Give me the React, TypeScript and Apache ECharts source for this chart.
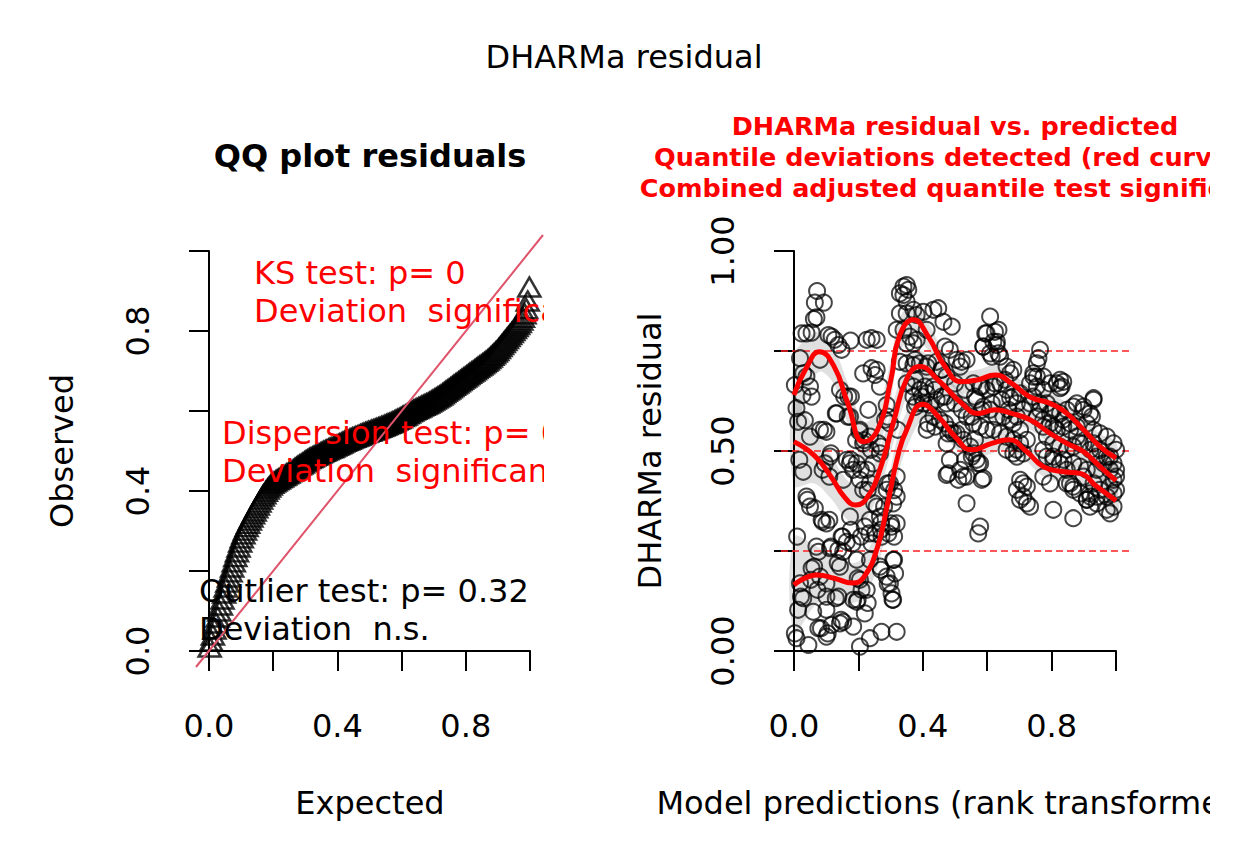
import React, { useEffect, useRef } from "react";
import * as echarts from "echarts";

// ---------------- DATA ----------------
// QQ plot: observed (sorted) residual quantiles
const qqObserved = [
  0.01, 0.025, 0.04, 0.055, 0.07, 0.085, 0.1, 0.115, 0.13, 0.145,
  0.16, 0.172, 0.185, 0.198, 0.21, 0.223, 0.236, 0.248, 0.26, 0.272,
  0.283, 0.293, 0.302, 0.311, 0.319, 0.327, 0.335, 0.343, 0.35, 0.358,
  0.365, 0.372, 0.38, 0.387, 0.393, 0.399, 0.405, 0.41, 0.415, 0.419,
  0.422, 0.425, 0.428, 0.43, 0.433, 0.435, 0.438, 0.44, 0.443, 0.445,
  0.448, 0.45, 0.453, 0.456, 0.459, 0.462, 0.465, 0.467, 0.47, 0.473,
  0.476, 0.478, 0.481, 0.483, 0.485, 0.487, 0.489, 0.491, 0.493, 0.495,
  0.497, 0.499, 0.501, 0.503, 0.505, 0.507, 0.508, 0.51, 0.512, 0.514,
  0.516, 0.518, 0.52, 0.522, 0.524, 0.526, 0.527, 0.529, 0.531, 0.533,
  0.534, 0.536, 0.537, 0.539, 0.541, 0.543, 0.544, 0.546, 0.547, 0.549,
  0.55, 0.552, 0.553, 0.555, 0.556, 0.558, 0.559, 0.561, 0.562, 0.564,
  0.566, 0.568, 0.569, 0.571, 0.573, 0.575, 0.577, 0.579, 0.581, 0.583,
  0.586, 0.588, 0.59, 0.593, 0.595, 0.598, 0.6, 0.602, 0.604, 0.606,
  0.608, 0.61, 0.612, 0.614, 0.616, 0.618, 0.62, 0.622, 0.625, 0.627,
  0.63, 0.632, 0.635, 0.637, 0.64, 0.643, 0.646, 0.649, 0.652, 0.655,
  0.658, 0.661, 0.664, 0.667, 0.67, 0.673, 0.676, 0.679, 0.682, 0.685,
  0.688, 0.691, 0.694, 0.697, 0.7, 0.703, 0.706, 0.709, 0.712, 0.715,
  0.718, 0.721, 0.724, 0.727, 0.731, 0.735, 0.739, 0.743, 0.747, 0.751,
  0.756, 0.761, 0.766, 0.771, 0.776, 0.781, 0.786, 0.791, 0.796, 0.801,
  0.806, 0.811, 0.816, 0.821, 0.827, 0.834, 0.843, 0.856, 0.875, 0.91,
];
const identityLine = [
  [-0.04, -0.04],
  [1.04, 1.04],
];

// Residual vs predicted scatter: [rank-transformed prediction, residual]
const residuals: number[][] = [
  [0.072,0.900],[0.065,0.871],[0.093,0.871],[0.070,0.834],[0.062,0.830],
  [0.024,0.794],[0.039,0.794],[0.055,0.796],[0.107,0.790],[0.117,0.786],
  [0.127,0.778],[0.138,0.765],[0.148,0.753],[0.176,0.776],[0.081,0.728],
  [0.019,0.732],[0.029,0.694],[0.039,0.686],[0.003,0.665],[0.050,0.661],
  [0.055,0.636],[0.027,0.640],[0.008,0.607],[0.013,0.573],[0.034,0.577],
  [0.050,0.536],[0.081,0.553],[0.101,0.548],[0.133,0.594],[0.143,0.653],
  [0.169,0.636],[0.174,0.586],[0.112,0.486],[0.096,0.469],[0.017,0.478],
  [0.029,0.448],[0.164,0.478],[0.174,0.469],[0.184,0.453],[0.195,0.469],
  [0.153,0.428],[0.039,0.386],[0.050,0.361],[0.065,0.357],[0.086,0.328],
  [0.101,0.319],[0.010,0.286],[0.148,0.286],[0.164,0.273],[0.174,0.336],
  [0.138,0.253],[0.153,0.248],[0.070,0.261],[0.076,0.248],[0.112,0.257],
  [0.195,0.228],[0.055,0.207],[0.081,0.186],[0.101,0.169],[0.143,0.211],
  [0.019,0.169],[0.029,0.132],[0.101,0.136],[0.138,0.136],[0.184,0.128],
  [0.195,0.123],[0.013,0.103],[0.060,0.098],[0.101,0.103],[0.117,0.065],
  [0.143,0.069],[0.153,0.073],[0.184,0.061],[0.003,0.044],[0.008,0.032],
  [0.045,0.015],[0.076,0.057],[0.101,0.036],[0.220,0.094],[0.226,0.153],
  [0.205,0.011],[0.236,0.032],[0.272,0.048],[0.319,0.048],
  [0.093,0.553],[0.156,0.636],[0.130,0.594],[0.167,0.586],[0.203,0.549],
  [0.218,0.527],[0.193,0.527],[0.177,0.478],[0.208,0.453],[0.115,0.494],
  [0.089,0.453],[0.110,0.436],[0.042,0.378],[0.089,0.323],[0.110,0.328],
  [0.177,0.303],[0.151,0.286],[0.182,0.269],[0.208,0.286],[0.234,0.294],
  [0.270,0.303],[0.311,0.286],[0.115,0.261],[0.136,0.220],[0.063,0.211],
  [0.053,0.178],[0.022,0.136],[0.073,0.153],[0.130,0.132],[0.146,0.078],
  [0.084,0.057],[0.105,0.044],[0.198,0.128],[0.229,0.120],[0.198,0.182],
  [0.270,0.203],[0.291,0.168],[0.306,0.128],[0.311,0.228],[0.229,0.402],
  [0.249,0.369],[0.280,0.361],[0.291,0.419],[0.311,0.402],[0.270,0.319],
  [0.301,0.319],[0.239,0.503],[0.270,0.511],[0.291,0.586],[0.322,0.553],
  [0.177,0.636],
  [0.215,0.694],[0.241,0.707],[0.257,0.703],[0.252,0.690],[0.267,0.661],
  [0.231,0.603],[0.288,0.615],[0.283,0.578],[0.298,0.569],[0.226,0.778],
  [0.241,0.782],[0.257,0.778],[0.205,0.553],[0.236,0.536],[0.262,0.519],
  [0.215,0.519],[0.267,0.494],[0.246,0.469],[0.226,0.453],[0.205,0.428],
  [0.215,0.403],[0.236,0.419],[0.298,0.419],[0.319,0.436],[0.288,0.403],
  [0.308,0.369],[0.319,0.386],[0.257,0.361],[0.267,0.336],[0.236,0.328],
  [0.220,0.311],[0.252,0.294],[0.303,0.311],[0.319,0.319],[0.293,0.294],
  [0.241,0.269],[0.272,0.286],[0.236,0.228],[0.267,0.211],[0.288,0.186],
  [0.298,0.169],[0.303,0.144],[0.308,0.128],[0.314,0.194],[0.308,0.228],
  [0.205,0.178],[0.210,0.153],
  [0.340,0.911],[0.350,0.915],[0.355,0.903],[0.340,0.890],[0.329,0.894],
  [0.350,0.873],[0.329,0.844],[0.350,0.844],[0.371,0.853],[0.381,0.840],
  [0.402,0.848],[0.319,0.803],[0.340,0.803],[0.360,0.786],[0.381,0.778],
  [0.371,0.769],[0.350,0.769],[0.412,0.803],[0.433,0.853],[0.448,0.857],
  [0.464,0.823],[0.490,0.811],[0.329,0.723],[0.350,0.719],[0.371,0.715],
  [0.391,0.719],[0.412,0.711],[0.443,0.723],[0.459,0.703],[0.474,0.686],
  [0.350,0.669],[0.371,0.661],[0.391,0.653],[0.412,0.644],[0.433,0.661],
  [0.371,0.636],[0.381,0.619],[0.402,0.619],[0.422,0.615],[0.443,0.628],
  [0.459,0.636],[0.474,0.619],[0.412,0.553],[0.433,0.586],[0.453,0.578],
  [0.469,0.569],[0.484,0.553],[0.495,0.544],[0.474,0.519],[0.484,0.478],
  [0.474,0.440],[0.516,0.453],[0.526,0.436],[0.536,0.436],[0.505,0.544],
  [0.526,0.528],[0.547,0.511],[0.557,0.494],[0.567,0.478],[0.578,0.469],
  [0.588,0.432],[0.536,0.369],[0.578,0.311],[0.572,0.294],[0.505,0.728],
  [0.521,0.723],[0.536,0.728],[0.516,0.711],[0.484,0.753],[0.469,0.761],
  [0.376,0.728],[0.417,0.719],[0.458,0.703],[0.376,0.678],[0.407,0.661],
  [0.438,0.653],[0.469,0.636],[0.500,0.619],[0.521,0.603],[0.552,0.586],
  [0.583,0.603],[0.614,0.619],[0.645,0.628],[0.666,0.603],[0.562,0.636],
  [0.531,0.653],[0.500,0.669],[0.583,0.661],[0.624,0.669],[0.655,0.678],
  [0.397,0.636],[0.376,0.610],[0.417,0.569],[0.438,0.561],[0.479,0.544],
  [0.521,0.553],[0.562,0.528],[0.531,0.478],[0.552,0.486],[0.572,0.469],
  [0.583,0.428],[0.479,0.444],[0.510,0.428],
  [0.594,0.794],[0.624,0.798],[0.630,0.773],[0.588,0.761],[0.614,0.736],
  [0.635,0.744],
  [0.609,0.836],[0.598,0.794],[0.635,0.803],[0.619,0.773],[0.629,0.765],
  [0.588,0.761],[0.609,0.744],[0.640,0.736],[0.660,0.711],[0.671,0.694],
  [0.681,0.703],[0.557,0.669],[0.578,0.661],[0.598,0.653],[0.619,0.661],
  [0.640,0.669],[0.660,0.653],[0.681,0.636],[0.702,0.644],[0.567,0.628],
  [0.588,0.611],[0.609,0.603],[0.629,0.586],[0.650,0.586],[0.671,0.578],
  [0.692,0.586],[0.712,0.603],[0.536,0.586],[0.557,0.569],[0.578,0.561],
  [0.598,0.553],[0.619,0.553],[0.640,0.544],[0.660,0.536],[0.681,0.528],
  [0.702,0.519],[0.660,0.503],[0.681,0.494],[0.692,0.486],[0.712,0.494],
  [0.702,0.428],[0.712,0.419],[0.723,0.411],[0.692,0.403],[0.712,0.386],
  [0.723,0.369],[0.733,0.361],[0.702,0.378],[0.764,0.753],[0.759,0.732],
  [0.754,0.719],[0.743,0.694],[0.754,0.686],[0.733,0.669],[0.754,0.661],
  [0.774,0.653],[0.795,0.669],[0.816,0.669],[0.826,0.657],[0.836,0.673],
  [0.743,0.636],[0.764,0.619],[0.785,0.619],[0.805,0.603],[0.826,0.594],
  [0.847,0.603],[0.867,0.611],[0.754,0.586],[0.774,0.578],[0.795,0.569],
  [0.816,0.553],[0.836,0.561],[0.857,0.569],[0.878,0.561],[0.785,0.536],
  [0.805,0.519],[0.826,0.511],[0.847,0.503],[0.867,0.511],[0.888,0.519],
  [0.785,0.486],[0.805,0.478],[0.826,0.469],[0.847,0.453],[0.867,0.469],
  [0.888,0.461],[0.909,0.453],[0.774,0.436],[0.795,0.419],[0.805,0.353],
  [0.857,0.419],[0.867,0.411],[0.888,0.394],[0.909,0.378],[0.919,0.361],
  [0.867,0.332],[0.930,0.628],[0.919,0.594],[0.899,0.603],[0.909,0.569],
  [0.930,0.553],[0.950,0.544],[0.971,0.536],[0.992,0.519],[0.930,0.519],
  [0.950,0.503],[0.971,0.486],[0.992,0.469],[1.000,0.436],[0.981,0.453],
  [0.961,0.469],[0.940,0.453],[0.930,0.419],[0.950,0.403],[0.971,0.386],
  [0.992,0.394],[0.981,0.344],[0.992,0.361],[0.940,0.386],[0.919,0.394],
  [0.743,0.686],[0.774,0.686],[0.826,0.678],[0.831,0.661],[0.878,0.619],
  [0.899,0.611],[0.930,0.632],[0.925,0.586],[1.000,0.503],[0.981,0.486],
  [1.000,0.453],[0.992,0.428],[0.981,0.411],[1.000,0.403],[0.681,0.569],
  [0.702,0.553],[0.723,0.528],[0.692,0.503],[0.671,0.633],[0.692,0.619],
  [0.774,0.503],[0.805,0.486],[0.837,0.478],[0.847,0.419],[0.867,0.403],
  [0.899,0.436],[0.909,0.378],[0.920,0.386],[0.940,0.369],[0.971,0.353],
  [0.733,0.619],[0.764,0.603],[0.795,0.594],[0.774,0.561],[0.805,0.561],
  [0.836,0.578],[0.857,0.553],[0.878,0.536],[0.899,0.519],[0.920,0.503],
  [0.940,0.486],
];

// Quantile regression curves (0.75, 0.5, 0.25) and their confidence half-widths
const q75X = [0, 0.04, 0.079, 0.125, 0.167, 0.218, 0.26, 0.301, 0.327, 0.371, 0.417, 0.469, 0.521, 0.572, 0.624, 0.676, 0.733, 0.795, 0.847, 0.899, 0.95, 1.0];
const q75Y = [0.64, 0.71, 0.748, 0.711, 0.62, 0.523, 0.553, 0.678, 0.786, 0.828, 0.786, 0.711, 0.673, 0.678, 0.69, 0.669, 0.635, 0.619, 0.594, 0.553, 0.511, 0.482];
const q75Half = [0.1, 0.07, 0.05, 0.045, 0.05, 0.05, 0.05, 0.05, 0.045, 0.04, 0.035, 0.03, 0.028, 0.026, 0.025, 0.025, 0.025, 0.025, 0.026, 0.028, 0.032, 0.04];

const q50X = [0, 0.063, 0.115, 0.156, 0.192, 0.229, 0.27, 0.311, 0.35, 0.391, 0.448, 0.521, 0.572, 0.624, 0.676, 0.733, 0.795, 0.847, 0.899, 0.95, 1.0];
const q50Y = [0.523, 0.489, 0.436, 0.386, 0.365, 0.386, 0.461, 0.578, 0.68, 0.711, 0.677, 0.619, 0.594, 0.603, 0.594, 0.578, 0.544, 0.519, 0.498, 0.461, 0.426];
const q50Half = [0.11, 0.07, 0.055, 0.05, 0.05, 0.05, 0.05, 0.05, 0.045, 0.04, 0.032, 0.028, 0.026, 0.025, 0.025, 0.025, 0.025, 0.026, 0.028, 0.032, 0.04];

const q25X = [0, 0.073, 0.125, 0.182, 0.218, 0.26, 0.291, 0.322, 0.35, 0.4, 0.448, 0.5, 0.552, 0.614, 0.666, 0.723, 0.774, 0.837, 0.888, 0.94, 1.0];
const q25Y = [0.165, 0.19, 0.182, 0.17, 0.186, 0.261, 0.369, 0.486, 0.553, 0.617, 0.586, 0.536, 0.503, 0.519, 0.528, 0.498, 0.461, 0.448, 0.444, 0.411, 0.376];
const q25Half = [0.12, 0.07, 0.055, 0.05, 0.05, 0.05, 0.05, 0.05, 0.045, 0.04, 0.032, 0.028, 0.026, 0.025, 0.025, 0.025, 0.025, 0.026, 0.028, 0.032, 0.04];

const refLevels = [0.25, 0.5, 0.75];
const qqLabeledTicks = [0, 0.4, 0.8];
const residXLabeledTicks = [0, 0.4, 0.8];
const residYLabeledTicks = [0, 0.5, 1];

const outerTitle = "DHARMa residual";
const qqTitle = "QQ plot residuals";
const residTitleLines = [
  "DHARMa residual vs. predicted",
  "Quantile deviations detected (red curves)",
  "Combined adjusted quantile test significant",
];
const qqTestLines = [
  ["KS test: p= 0", "Deviation  significant"],
  ["Dispersion test: p= 0", "Deviation  significant"],
  ["Outlier test: p= 0.32", "Deviation  n.s."],
];

// ---------------- CHART ----------------
const FONT = "DejaVu Sans";
const FS = 32;

function labelFormatter(ticks: number[], digits: number) {
  return (v: number) =>
    ticks.some((t) => Math.abs(t - v) < 1e-6) ? v.toFixed(digits) : "";
}

export default function App() {
  const ref = useRef<HTMLDivElement>(null);

  useEffect(() => {
    if (!ref.current) return;
    const chart = echarts.init(ref.current, null, { renderer: "svg" });

    const axisLine = { show: true, lineStyle: { color: "#000", width: 2 } };
    const axisTick = { show: true, length: 20, lineStyle: { color: "#000", width: 2 } };
    const hiddenAxis = (gridIndex: number) => ({
      type: "value",
      gridIndex,
      min: -0.04,
      max: 1.04,
      show: false,
      splitLine: { show: false },
    });
    const visibleX = (gridIndex: number, ticks: number[]) => ({
      type: "value",
      gridIndex,
      min: 0,
      max: 1,
      interval: 0.2,
      offset: 16,
      axisLine,
      axisTick,
      splitLine: { show: false },
      axisLabel: {
        margin: 43,
        color: "#000",
        fontSize: FS,
        fontFamily: FONT,
        formatter: labelFormatter(ticks, 1),
      },
    });
    const visibleY = (gridIndex: number, interval: number, ticks: number[], digits: number) => ({
      type: "value",
      gridIndex,
      min: 0,
      max: 1,
      interval,
      offset: 13,
      axisLine,
      axisTick,
      splitLine: { show: false },
      axisLabel: {
        margin: 42,
        rotate: 90,
        color: "#000",
        fontSize: FS,
        fontFamily: FONT,
        formatter: labelFormatter(ticks, digits),
      },
    });

    const band = (xs: number[], ys: number[], half: number[]) => ({
      type: "custom",
      xAxisIndex: 2,
      yAxisIndex: 2,
      z: 1,
      silent: true,
      data: [[xs[0], ys[0]]],
      renderItem: (_params: any, api: any) => {
        const upper = xs.map((x, i) => api.coord([x, ys[i] + half[i]]));
        const lower = xs.map((x, i) => api.coord([x, ys[i] - half[i]])).reverse();
        return {
          type: "polygon",
          shape: { points: upper.concat(lower), smooth: 0.35 },
          style: { fill: "rgba(0,0,0,0.12)", stroke: "none" },
        };
      },
    });

    const curve = (xs: number[], ys: number[]) => ({
      type: "line",
      xAxisIndex: 2,
      yAxisIndex: 2,
      z: 4,
      smooth: 0.5,
      symbol: "none",
      silent: true,
      lineStyle: { color: "#ff0000", width: 5 },
      data: xs.map((x, i) => [x, ys[i]]),
    });

    const refLine = (v: number) => ({
      type: "line",
      xAxisIndex: 2,
      yAxisIndex: 2,
      z: 1,
      symbol: "none",
      silent: true,
      lineStyle: { color: "#ff2020", width: 1.3, type: [7, 4] },
      data: [
        [-0.04, v],
        [1.04, v],
      ],
    });

    const text = (
      x: number,
      y: number,
      t: string,
      opts: { size?: number; weight?: string; color?: string; align?: string; rotation?: number } = {}
    ) => ({
      type: "text",
      x,
      y,
      z: 100,
      rotation: opts.rotation || 0,
      silent: true,
      style: {
        text: t,
        fill: opts.color || "#000",
        fontSize: opts.size || FS,
        fontFamily: FONT,
        fontWeight: opts.weight || "normal",
        align: opts.align || "center",
        textAlign: opts.align || "center",
        verticalAlign: "middle",
        textVerticalAlign: "middle",
      },
    });

    const mask = (x: number, y: number, w: number, h: number) => ({
      type: "rect",
      z: 200,
      silent: true,
      shape: { x, y, width: w, height: h },
      style: { fill: "#ffffff" },
    });

    const qqPoints = qqObserved.map((v, i) => [(i + 0.5) / qqObserved.length, v]);

    const graphics: any[] = [
      text(624, 57, outerTitle),
      text(370, 156, qqTitle, { weight: "bold" }),
      text(955, 126, residTitleLines[0], { size: 25.5, weight: "bold", color: "#ff0000" }),
      text(955, 157, residTitleLines[1], { size: 25.5, weight: "bold", color: "#ff0000" }),
      text(955, 188, residTitleLines[2], { size: 25.5, weight: "bold", color: "#ff0000" }),
      text(370, 803, "Expected"),
      text(955, 803, "Model predictions (rank transformed)"),
      text(62, 451, "Observed", { rotation: Math.PI / 2 }),
      text(650, 451, "DHARMa residual", { rotation: Math.PI / 2 }),
      text(254, 273, qqTestLines[0][0], { align: "left", color: "#ff0000" }),
      text(254, 311, qqTestLines[0][1], { align: "left", color: "#ff0000" }),
      text(222, 433, qqTestLines[1][0], { align: "left", color: "#ff0000" }),
      text(222, 471, qqTestLines[1][1], { align: "left", color: "#ff0000" }),
      text(199, 591, qqTestLines[2][0], { align: "left" }),
      text(199, 629, qqTestLines[2][1], { align: "left" }),
      mask(544, 240, 90, 270),
      mask(1210, 95, 38, 120),
      mask(1210, 775, 38, 60),
    ];

    const option: any = {
      animation: false,
      backgroundColor: "#ffffff",
      textStyle: { fontFamily: FONT },
      grid: [
        { left: 196, top: 235, width: 347, height: 432 },
        { left: 209, top: 251, width: 321, height: 400 },
        { left: 781, top: 235, width: 348, height: 432 },
        { left: 794, top: 251, width: 322, height: 400 },
      ],
      xAxis: [
        hiddenAxis(0),
        visibleX(1, qqLabeledTicks),
        hiddenAxis(2),
        visibleX(3, residXLabeledTicks),
      ],
      yAxis: [
        hiddenAxis(0),
        visibleY(1, 0.2, qqLabeledTicks, 1),
        hiddenAxis(2),
        visibleY(3, 0.25, residYLabeledTicks, 2),
      ],
      series: [
        {
          type: "scatter",
          xAxisIndex: 0,
          yAxisIndex: 0,
          z: 2,
          symbol: "triangle",
          symbolSize: [22, 19],
          silent: true,
          itemStyle: { color: "rgba(0,0,0,0)", borderColor: "#000", borderWidth: 2.5 },
          data: qqPoints,
        },
        {
          type: "line",
          xAxisIndex: 0,
          yAxisIndex: 0,
          z: 3,
          symbol: "none",
          silent: true,
          lineStyle: { color: "#DF536B", width: 2 },
          data: identityLine,
        },
        band(q75X, q75Y, q75Half),
        band(q50X, q50Y, q50Half),
        band(q25X, q25Y, q25Half),
        ...refLevels.map(refLine),
        {
          type: "scatter",
          xAxisIndex: 2,
          yAxisIndex: 2,
          z: 2,
          symbol: "circle",
          symbolSize: 16,
          silent: true,
          itemStyle: { color: "rgba(0,0,0,0)", borderColor: "rgba(0,0,0,0.9)", borderWidth: 2 },
          data: residuals,
        },
        curve(q75X, q75Y),
        curve(q50X, q50Y),
        curve(q25X, q25Y),
      ],
      graphic: graphics,
    };

    chart.setOption(option);
    return () => chart.dispose();
  }, []);

  return (
    <div
      ref={ref}
      style={{ position: "fixed", left: 0, top: 0, width: 1248, height: 864, background: "#fff" }}
    />
  );
}
